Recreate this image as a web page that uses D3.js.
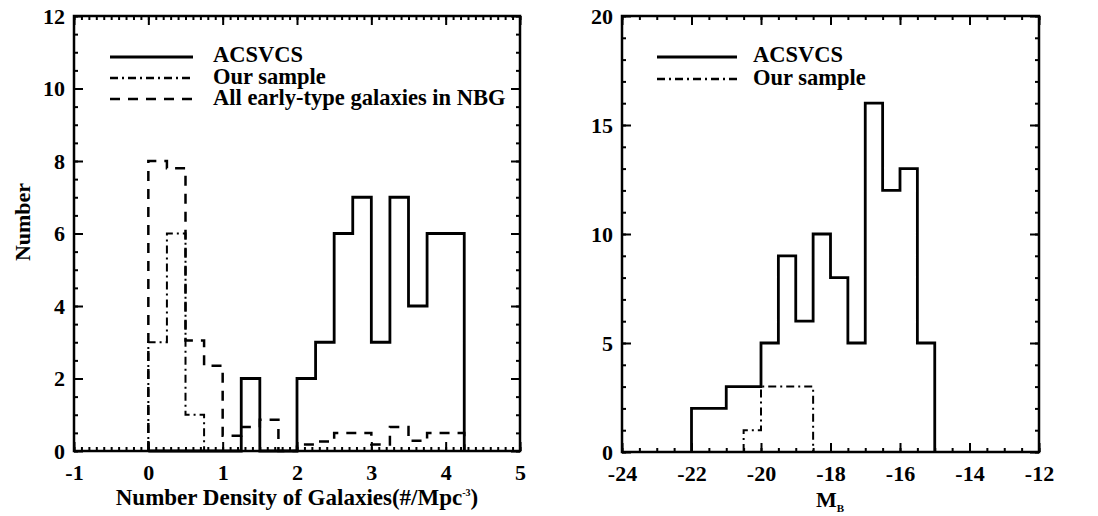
<!DOCTYPE html>
<html>
<head>
<meta charset="utf-8">
<script src="https://cdn.jsdelivr.net/npm/d3@7"></script>
<style>
  html, body { margin: 0; padding: 0; background: #fff; }
  svg { display: block; }
</style>
</head>
<body>
<svg id="chart" width="1098" height="516"></svg>
<script>
// ---------- Data ----------
// Left panel: number density histograms (bin width 0.25, first bin starts at 0)
const leftBinStart = 0;
const leftBinWidth = 0.25;
const leftAcsvcs = [0, 0, 0, 0, 0, 2, 0, 0, 2, 3, 6, 7, 3, 7, 4, 6, 6];
const leftOurSample = [3, 6, 1, 0];
const leftNbg = [8, 7.8, 3.05, 2.35, 0.42, 0.66, 0.86, 0, 0.18, 0.26, 0.5, 0.5, 0.18, 0.66, 0.28, 0.5, 0.5];
const leftXTicks = [-1, 0, 1, 2, 3, 4, 5];
const leftYTicks = [0, 2, 4, 6, 8, 10, 12];

// Right panel: M_B histograms (bin width 0.5)
const rightBinWidth = 0.5;
const rightAcsvcsStart = -22;
const rightAcsvcs = [2, 2, 3, 3, 5, 9, 6, 10, 8, 5, 16, 12, 13, 5];
const rightOurStart = -20.5;
const rightOurSample = [1, 3, 3, 3];
const rightXTicks = [-24, -22, -20, -18, -16, -14, -12];
const rightYTicks = [0, 5, 10, 15, 20];

const leftLegend = ["ACSVCS", "Our sample", "All early-type galaxies in NBG"];
const rightLegend = ["ACSVCS", "Our sample"];

// ---------- Helpers ----------
const FONT = '"Liberation Serif"';
const FS = 22;
const svg = d3.select("#chart");
const DASH = "10,8";
const DASHDOT = "8,4,2,4";

function stepPoints(start, width, values) {
  const pts = [[start, 0]];
  values.forEach((v, i) => {
    pts.push([start + i * width, v]);
    pts.push([start + (i + 1) * width, v]);
  });
  pts.push([start + values.length * width, 0]);
  return pts;
}

function styleText(sel, size) {
  sel.style("font-family", FONT).style("font-weight", "bold").style("font-size", (size || FS) + "px").style("fill", "#000");
}

function panel(opts) {
  const { x0, x1, y0, y1, xDomain, yDomain, xTicks, yTicks, xMinor, yMinor } = opts;
  const x = d3.scaleLinear().domain(xDomain).range([x0, x1]);
  const y = d3.scaleLinear().domain(yDomain).range([y1, y0]);
  const g = svg.append("g");
  const fmt = d => String(d);
  const xm = d3.range(xDomain[0], xDomain[1] + 1e-9, xMinor).map(v => +v.toFixed(4));
  const ym = d3.range(yDomain[0], yDomain[1] + 1e-9, yMinor).map(v => +v.toFixed(4));

  const styleAxis = sel => {
    sel.select(".domain").remove();
    sel.selectAll(".tick line").attr("stroke", "#000").attr("stroke-width", 2);
  };
  // minor ticks
  g.append("g").attr("transform", `translate(0,${y1})`)
    .call(d3.axisBottom(x).tickValues(xm).tickSize(-4).tickFormat("")).call(styleAxis);
  g.append("g").attr("transform", `translate(0,${y0})`)
    .call(d3.axisTop(x).tickValues(xm).tickSize(-4).tickFormat("")).call(styleAxis);
  g.append("g").attr("transform", `translate(${x0},0)`)
    .call(d3.axisLeft(y).tickValues(ym).tickSize(-4).tickFormat("")).call(styleAxis);
  g.append("g").attr("transform", `translate(${x1},0)`)
    .call(d3.axisRight(y).tickValues(ym).tickSize(-4).tickFormat("")).call(styleAxis);
  // major ticks
  const bx = g.append("g").attr("transform", `translate(0,${y1})`)
    .call(d3.axisBottom(x).tickValues(xTicks).tickSize(-9).tickPadding(13).tickFormat(fmt)).call(styleAxis);
  styleText(bx.selectAll("text"));
  g.append("g").attr("transform", `translate(0,${y0})`)
    .call(d3.axisTop(x).tickValues(xTicks).tickSize(-9).tickFormat("")).call(styleAxis);
  const ly = g.append("g").attr("transform", `translate(${x0},0)`)
    .call(d3.axisLeft(y).tickValues(yTicks).tickSize(-9).tickPadding(9).tickFormat(fmt)).call(styleAxis);
  styleText(ly.selectAll("text"));
  g.append("g").attr("transform", `translate(${x1},0)`)
    .call(d3.axisRight(y).tickValues(yTicks).tickSize(-9).tickFormat("")).call(styleAxis);

  return { x, y, g, frame: () => g.append("rect").attr("x", x0).attr("y", y0)
    .attr("width", x1 - x0).attr("height", y1 - y0)
    .attr("fill", "none").attr("stroke", "#000").attr("stroke-width", 2.5) };
}

function drawHist(p, start, width, values, dash, sw) {
  const line = d3.line().x(d => p.x(d[0])).y(d => p.y(d[1])).curve(d3.curveLinear);
  p.g.append("path").attr("d", line(stepPoints(start, width, values)))
    .attr("fill", "none").attr("stroke", "#000").attr("stroke-width", sw)
    .attr("stroke-dasharray", dash || null).attr("stroke-linejoin", "miter").attr("stroke-linecap", "butt");
}

// ---------- Left panel ----------
const L = panel({ x0: 74, x1: 520, y0: 16, y1: 451, xDomain: [-1, 5], yDomain: [0, 12],
  xTicks: leftXTicks, yTicks: leftYTicks, xMinor: 0.1, yMinor: 0.5 });
drawHist(L, leftBinStart, leftBinWidth, leftNbg, DASH, 2.5);
drawHist(L, leftBinStart, leftBinWidth, leftOurSample, DASHDOT, 2);
drawHist(L, leftBinStart, leftBinWidth, leftAcsvcs, null, 2.8);
L.frame();

const leftDash = [null, DASHDOT, DASH];
const leftLegY = [57, 78, 99];
const leftTxtY = [62, 84, 105];
leftLegend.forEach((t, i) => {
  svg.append("line").attr("x1", 110).attr("x2", 193).attr("y1", leftLegY[i]).attr("y2", leftLegY[i])
    .attr("stroke", "#000").attr("stroke-width", i === 0 ? 3 : 2.5).attr("stroke-dasharray", leftDash[i]);
  svg.append("text").attr("x", 213).attr("y", leftTxtY[i]).call(styleText, 22.5).text(t);
});

svg.append("text").attr("transform", "translate(30,222) rotate(-90)")
  .attr("text-anchor", "middle").call(styleText).text("Number");
const xl = svg.append("text").attr("x", 297).attr("y", 505).attr("text-anchor", "middle").call(styleText, 23);
xl.append("tspan").text("Number Density of Galaxies(#/Mpc");
xl.append("tspan").style("font-size", "10px").attr("dy", -9).text("-3");
xl.append("tspan").attr("dy", 9).text(")");

// ---------- Right panel ----------
const R = panel({ x0: 622, x1: 1039, y0: 16, y1: 452, xDomain: [-24, -12], yDomain: [0, 20],
  xTicks: rightXTicks, yTicks: rightYTicks, xMinor: 0.5, yMinor: 1 });
drawHist(R, rightOurStart, rightBinWidth, rightOurSample, DASHDOT, 2);
drawHist(R, rightAcsvcsStart, rightBinWidth, rightAcsvcs, null, 2.8);
R.frame();

const rightDash = [null, DASHDOT];
const rightLegY = [57, 79];
const rightTxtY = [62, 85];
rightLegend.forEach((t, i) => {
  svg.append("line").attr("x1", 657).attr("x2", 737).attr("y1", rightLegY[i]).attr("y2", rightLegY[i])
    .attr("stroke", "#000").attr("stroke-width", i === 0 ? 3 : 2.5).attr("stroke-dasharray", rightDash[i]);
  svg.append("text").attr("x", 753).attr("y", rightTxtY[i]).call(styleText, 22.5).text(t);
});

const ml = svg.append("text").attr("x", 830).attr("y", 507).attr("text-anchor", "middle").call(styleText);
ml.append("tspan").text("M");
ml.append("tspan").style("font-size", "11px").attr("dy", 5).text("B");
</script>
</body>
</html>
